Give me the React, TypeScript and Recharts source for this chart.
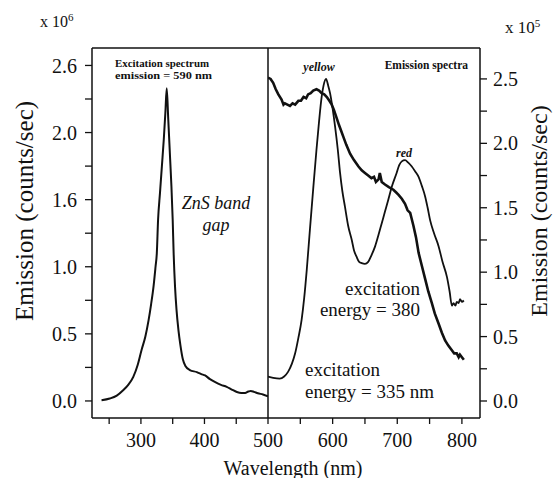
import { LineChart, Line, XAxis, YAxis, ReferenceLine } from "recharts";

// excitation spectrum (emission = 590 nm), units of 10^6 counts/sec
const excitationNm = [
  238, 251, 262, 272, 280, 288, 295, 301, 307, 312, 316, 320, 323, 325, 327, 330, 333, 336, 338.5, 340.6,
  343, 346, 348, 350, 351.5, 353.7, 356, 359, 362, 366, 370, 377, 388, 395, 401, 408, 417, 426, 435,
  443, 451, 458, 464, 469, 473, 478, 484, 492, 500,
];
const excitationCounts = [
  0.005, 0.018, 0.04, 0.08, 0.12, 0.18, 0.27, 0.38, 0.48, 0.6, 0.72, 0.86, 1.0, 1.1, 1.35, 1.55, 1.75, 1.95,
  2.15, 2.33, 2.1, 1.8, 1.6, 1.35, 1.1, 0.85, 0.68, 0.53, 0.42, 0.31, 0.26, 0.23, 0.215, 0.2, 0.19, 0.165,
  0.14, 0.12, 0.105, 0.085, 0.067, 0.06, 0.06, 0.07, 0.075, 0.068, 0.058, 0.048, 0.035,
];

// emission, two-peak curve (yellow / red), units of 10^5
const peakNm = [
  500, 508, 518, 525, 531, 537, 542, 547, 552, 556, 560, 565, 570, 575, 579, 583, 586, 589.8, 593, 596, 600,
  603.8, 608, 611.5, 615, 619, 624, 629.6, 633, 637, 641, 645, 650, 655, 660, 665.7, 671, 676, 681, 686, 692,
  699, 703, 707, 712, 717, 722.5, 728, 733, 738, 743, 747, 751, 757, 764, 770, 777, 781, 784.5, 787, 790,
  792, 795, 797, 800, 803,
];
const peakCounts = [
  0.19, 0.18, 0.174, 0.19, 0.226, 0.29, 0.37, 0.49, 0.63, 0.8, 1.02, 1.34, 1.65, 1.95, 2.17, 2.36, 2.45, 2.5,
  2.45, 2.39, 2.27, 2.13, 1.95, 1.77, 1.63, 1.51, 1.36, 1.25, 1.17, 1.12, 1.08, 1.07, 1.065, 1.08, 1.13, 1.2,
  1.29, 1.38, 1.47, 1.56, 1.67, 1.77, 1.83, 1.86, 1.87, 1.85, 1.82, 1.78, 1.74, 1.67, 1.59, 1.5, 1.4, 1.3,
  1.2, 1.08, 0.96, 0.85, 0.74, 0.76, 0.74, 0.77, 0.76, 0.79, 0.77, 0.78,
];

// emission, broad noisy curve, units of 10^5
const broadNm = [
  500, 504, 508, 512, 516, 521, 524, 526, 530, 534, 538, 542, 547, 551, 555, 559, 562, 566, 570, 575, 579,
  583, 587, 591, 595, 598.6, 602, 606, 610, 613, 616.6, 621, 627, 633, 640, 645, 650, 655, 660, 664, 667,
  671, 673, 676, 681, 687, 694, 698, 702, 707, 712, 716, 720, 722, 725, 729, 733, 738, 743.5, 748, 753.5,
  758, 764, 769, 774, 779, 785, 788, 792, 795, 797, 800, 803,
];
const broadCounts = [
  2.51, 2.5, 2.47, 2.42, 2.38, 2.34, 2.3, 2.31, 2.3, 2.29, 2.31, 2.3, 2.33, 2.33, 2.36, 2.35, 2.38, 2.39,
  2.41, 2.42, 2.41, 2.39, 2.38, 2.36, 2.33, 2.3, 2.26, 2.2, 2.14, 2.1, 2.05, 1.99, 1.92, 1.87, 1.82, 1.79,
  1.77, 1.75, 1.73, 1.74, 1.7, 1.72, 1.77, 1.7, 1.68, 1.66, 1.64, 1.62, 1.6, 1.57, 1.53, 1.48, 1.46, 1.42,
  1.36, 1.27, 1.15, 1.05, 0.94, 0.85, 0.76, 0.68, 0.6, 0.53, 0.47, 0.43, 0.39, 0.37, 0.37, 0.34, 0.36, 0.34,
  0.32,
];

const leftXTicks = [250, 300, 350, 400, 450, 500];
const leftXLabels = [300, 400, 500];
const rightXTicks = [550, 600, 650, 700, 750, 800];
const rightXLabels = [600, 700, 800];

const leftYTicks = [0, 0.25, 0.5, 0.75, 1, 1.25, 1.5, 1.75, 2, 2.25, 2.5];
const leftYMajor = [0, 0.5, 1, 1.5, 2, 2.5];
const leftYLabels = ["0.0", "0.5", "1.0", "1.6", "2.0", "2.6"];
const rightYTicks = [0, 0.25, 0.5, 0.75, 1, 1.25, 1.5, 1.75, 2, 2.25, 2.5];
const rightYMajor = [0, 0.5, 1, 1.5, 2, 2.5];
const rightYLabels = ["0.0", "0.5", "1.0", "1.5", "2.0", "2.5"];

const toRows = (xs: number[], ys: number[]) => xs.map((nm, i) => ({ nm, v: ys[i] }));
const excitationData = toRows(excitationNm, excitationCounts);
const peakData = toRows(peakNm, peakCounts);
const broadData = toRows(broadNm, broadCounts);

const FONT = "'Liberation Serif', 'Times New Roman', serif";
const INK = "#111";
const tickStyle = { fontFamily: FONT, fontSize: 20, fill: INK };
const axisLine = { stroke: INK, strokeWidth: 1.5 };
const tickLine = { stroke: INK, strokeWidth: 1.3 };

const W = 553;
const H = 478;
const LEFT_Y = [-0.127, 2.63];
const RIGHT_Y = [-0.132, 2.74];

const pick = (major: number[], labels: (string | number)[]) => (v: number) => {
  const i = major.indexOf(v);
  return i >= 0 ? String(labels[i]) : "";
};

export default function App() {
  return (
    <div
      style={{ position: "absolute", left: 0, top: 0, width: W, height: H, background: "#fff", overflow: "hidden" }}
    >
      <div style={{ position: "absolute", left: 0, top: 0 }}>
        <LineChart width={W} height={H} margin={{ top: 48, right: 285, bottom: 30, left: 32 }}>
          <XAxis
            type="number"
            dataKey="nm"
            domain={[223, 500]}
            allowDataOverflow
            ticks={leftXTicks}
            tickFormatter={pick(leftXLabels, leftXLabels)}
            interval={0}
            tick={tickStyle}
            axisLine={axisLine}
            tickLine={tickLine}
            tickSize={6}
            tickMargin={9}
            height={30}
          />
          <YAxis
            type="number"
            domain={LEFT_Y}
            allowDataOverflow
            ticks={leftYTicks}
            tickFormatter={pick(leftYMajor, leftYLabels)}
            interval={0}
            tick={tickStyle}
            axisLine={axisLine}
            tickLine={tickLine}
            tickSize={7}
            tickMargin={8}
            width={60}
          />
          <ReferenceLine y={LEFT_Y[1]} stroke={INK} strokeWidth={1.5} />
          <ReferenceLine x={500} stroke={INK} strokeWidth={1.5} />
          <Line
            data={excitationData}
            dataKey="v"
            type="monotone"
            stroke={INK}
            strokeWidth={2}
            dot={false}
            isAnimationActive={false}
          />
        </LineChart>
      </div>
      <div style={{ position: "absolute", left: 0, top: 0 }}>
        <LineChart width={W} height={H} margin={{ top: 48, right: 13, bottom: 30, left: 268 }}>
          <XAxis
            type="number"
            dataKey="nm"
            domain={[500, 828]}
            allowDataOverflow
            ticks={rightXTicks}
            tickFormatter={pick(rightXLabels, rightXLabels)}
            interval={0}
            tick={tickStyle}
            axisLine={axisLine}
            tickLine={tickLine}
            tickSize={6}
            tickMargin={9}
            height={30}
          />
          <YAxis
            orientation="right"
            type="number"
            domain={RIGHT_Y}
            allowDataOverflow
            ticks={rightYTicks}
            tickFormatter={pick(rightYMajor, rightYLabels)}
            interval={0}
            tick={tickStyle}
            axisLine={axisLine}
            tickLine={tickLine}
            tickSize={7}
            tickMargin={6}
            width={60}
          />
          <ReferenceLine y={RIGHT_Y[1]} stroke={INK} strokeWidth={1.5} />
          <Line
            data={broadData}
            dataKey="v"
            type="linear"
            stroke={INK}
            strokeWidth={2.6}
            dot={false}
            isAnimationActive={false}
          />
          <Line
            data={peakData}
            dataKey="v"
            type="monotone"
            stroke={INK}
            strokeWidth={1.8}
            dot={false}
            isAnimationActive={false}
          />
        </LineChart>
      </div>
      <svg
        width={W}
        height={H}
        style={{ position: "absolute", left: 0, top: 0, pointerEvents: "none" }}
        fontFamily={FONT}
        fill={INK}
      >
        <text x={40} y={27} fontSize={16}>
          x 10<tspan dy={-6} fontSize={11}>6</tspan>
        </text>
        <text x={505} y={33} fontSize={17}>
          x 10<tspan dy={-6} fontSize={11}>5</tspan>
        </text>
        <text x={0} y={0} fontSize={25} textAnchor="middle" transform="translate(33,211) rotate(-90)">
          Emission (counts/sec)
        </text>
        <text x={0} y={0} fontSize={24} textAnchor="middle" transform="translate(547,211) rotate(-90)">
          Emission (counts/sec)
        </text>
        <text x={293} y={475} fontSize={20} textAnchor="middle">
          Wavelength (nm)
        </text>
        <text x={115} y={67} fontSize={11} fontWeight="bold" textLength={94} lengthAdjust="spacingAndGlyphs">
          Excitation spectrum
        </text>
        <text x={115} y={79} fontSize={11} fontWeight="bold" textLength={97} lengthAdjust="spacingAndGlyphs">
          emission = 590 nm
        </text>
        <text x={216} y={209} fontSize={18} fontStyle="italic" textAnchor="middle">
          ZnS band
        </text>
        <text x={216} y={231} fontSize={18} fontStyle="italic" textAnchor="middle">
          gap
        </text>
        <text x={319} y={71} fontSize={12} fontStyle="italic" fontWeight="bold" textAnchor="middle">
          yellow
        </text>
        <text x={468} y={69} fontSize={11.5} fontWeight="bold" textAnchor="end">
          Emission spectra
        </text>
        <text x={404} y={157} fontSize={12} fontStyle="italic" fontWeight="bold" textAnchor="middle">
          red
        </text>
        <text x={420} y={295} fontSize={19} textAnchor="end">
          excitation
        </text>
        <text x={420} y={316} fontSize={19} textAnchor="end">
          energy = 380
        </text>
        <text x={305} y={376} fontSize={19}>
          excitation
        </text>
        <text x={305} y={398} fontSize={19}>
          energy = 335 nm
        </text>
      </svg>
    </div>
  );
}
